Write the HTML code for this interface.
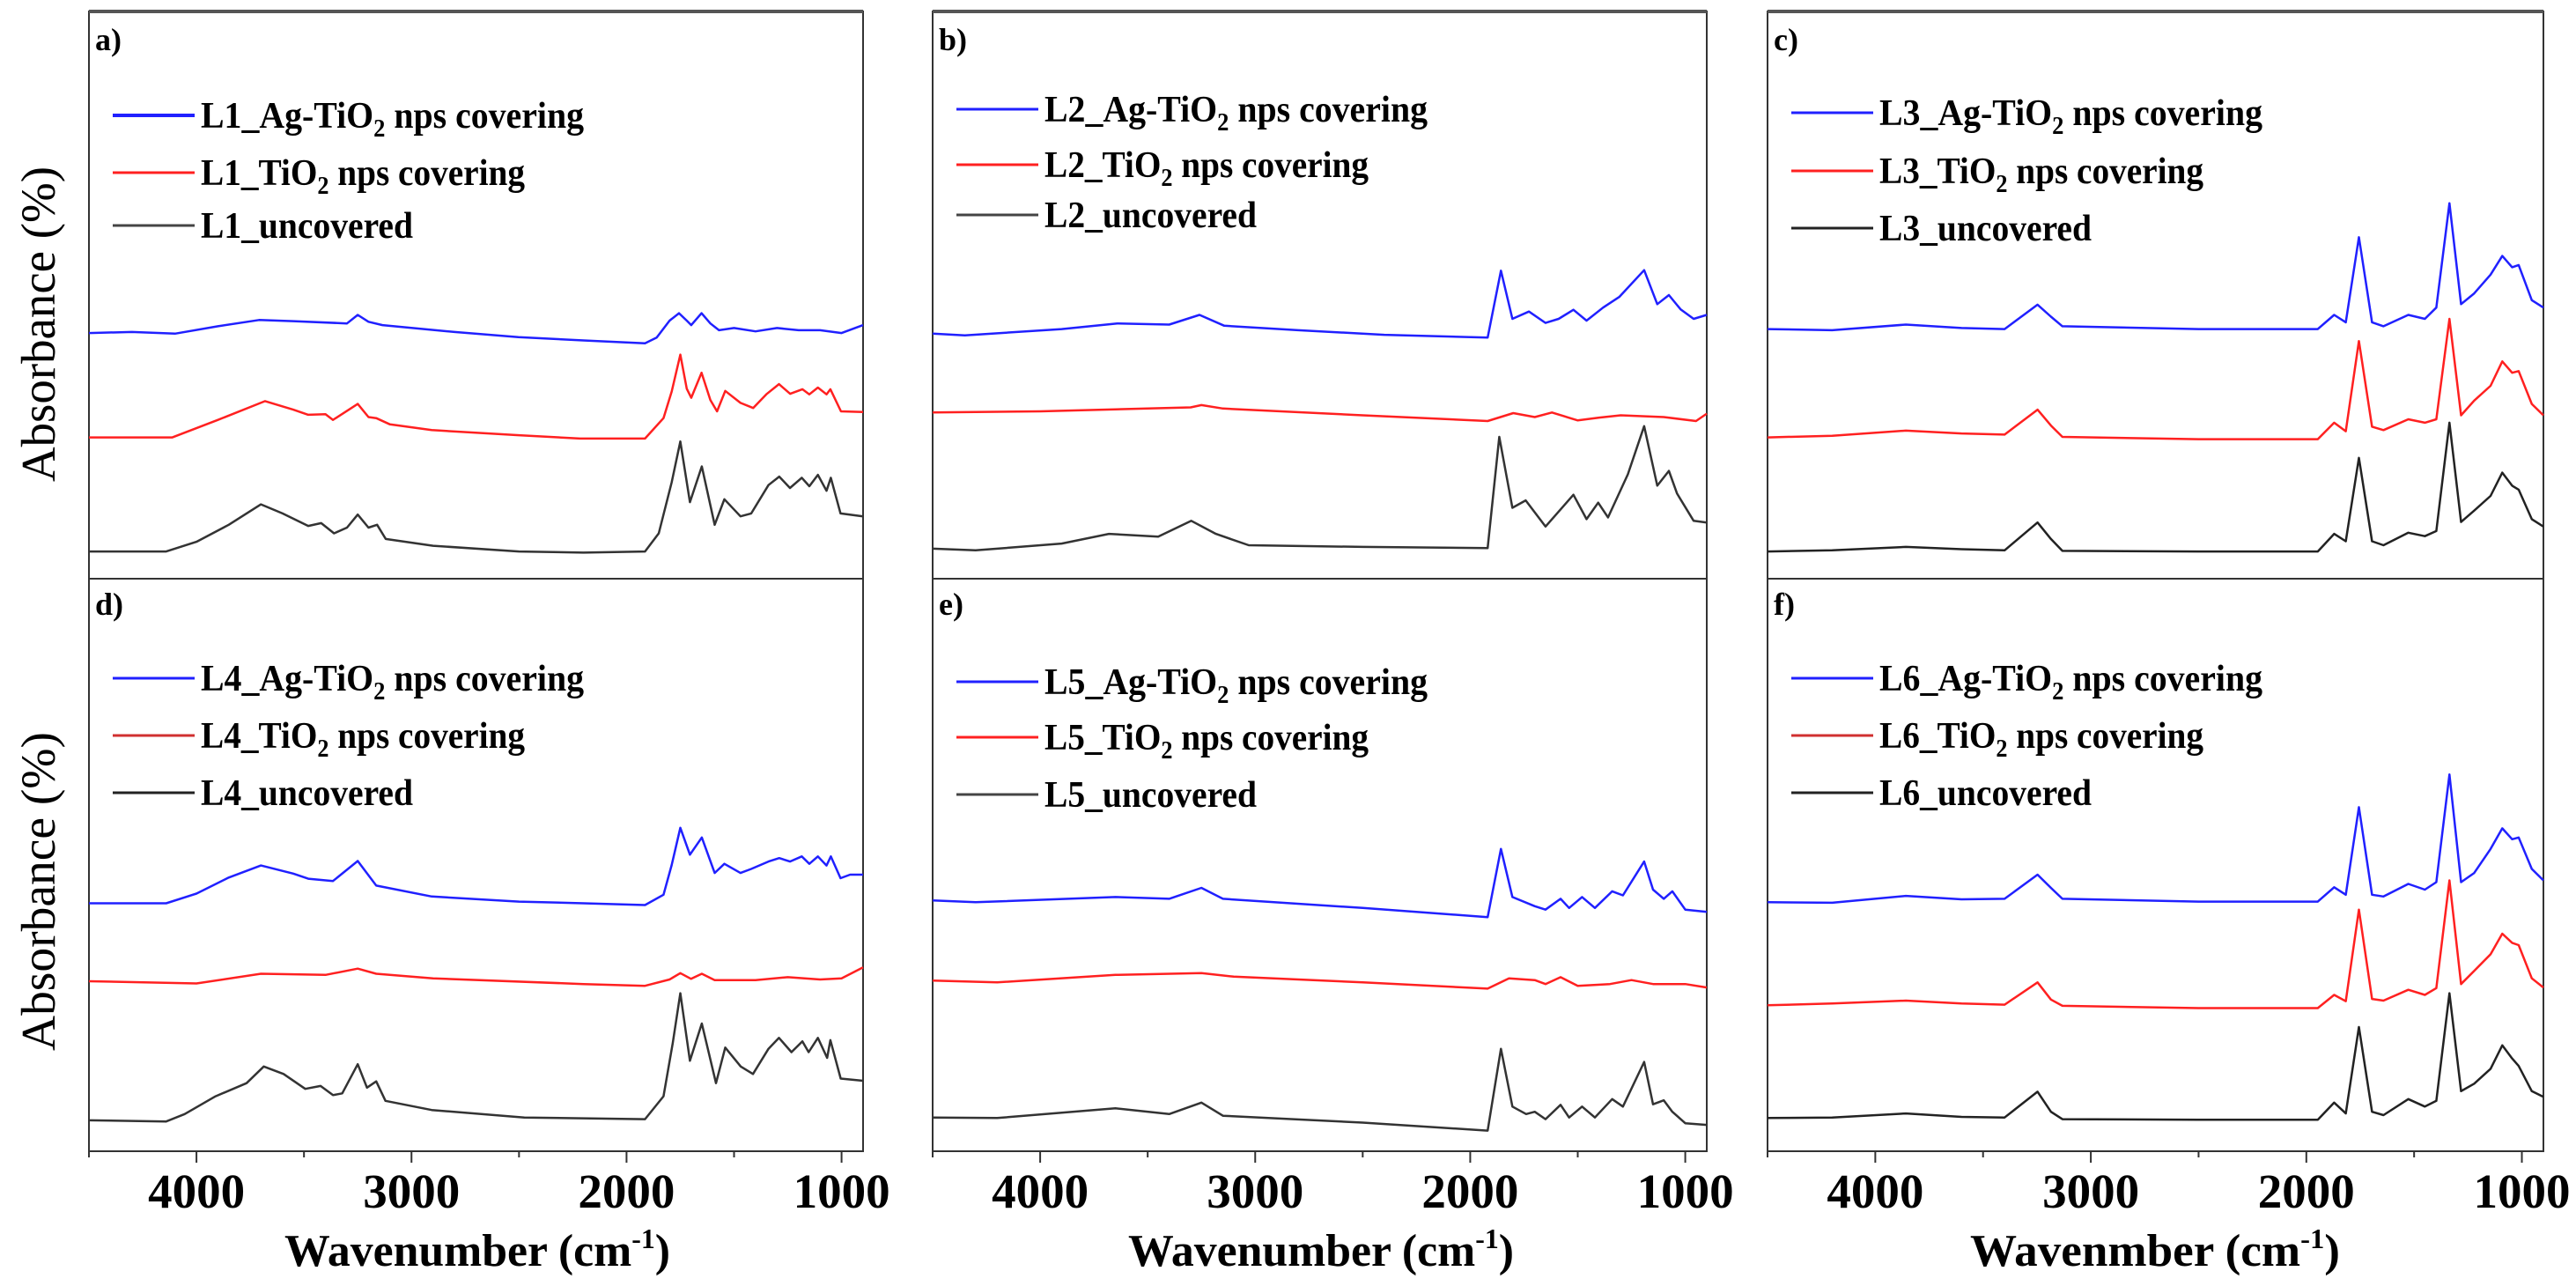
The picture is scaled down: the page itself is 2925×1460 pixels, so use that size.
<!DOCTYPE html>
<html><head><meta charset="utf-8"><title>FTIR spectra L1-L6</title>
<style>
html,body{margin:0;padding:0;background:#fff;}
svg{display:block;}
text{font-family:"Liberation Serif",serif;}
.lg{font-weight:bold;font-size:42px;fill:#000;}
.pl{font-weight:bold;font-size:36px;fill:#000;}
.yl{font-size:55px;fill:#000;}
.tk{font-weight:bold;font-size:55px;fill:#000;}
.xt{font-weight:bold;font-size:52px;fill:#000;}
</style></head>
<body>
<svg id="chart" width="2925" height="1460" viewBox="0 0 2925 1460" xmlns="http://www.w3.org/2000/svg">
<rect x="0" y="0" width="2925" height="1460" fill="#fff"/>
<g id="frames" fill="none" stroke="#333" stroke-width="2">
  <rect x="101" y="13" width="879" height="1294"/>
  <rect x="1059" y="13" width="879" height="1294"/>
  <rect x="2007" y="13" width="881" height="1294"/>
  <line x1="101" y1="13" x2="980" y2="13" stroke="#555" stroke-width="4"/>
  <line x1="1059" y1="13" x2="1938" y2="13" stroke="#555" stroke-width="4"/>
  <line x1="2007" y1="13" x2="2888" y2="13" stroke="#555" stroke-width="4"/>
  <line x1="101" y1="657" x2="980" y2="657"/>
  <line x1="1059" y1="657" x2="1938" y2="657"/>
  <line x1="2007" y1="657" x2="2888" y2="657"/>
</g>
<g id="ticks"></g>
<g id="curves"></g>

<!-- panel labels -->
<text class="pl" x="108" y="57">a)</text>
<text class="pl" x="1066" y="57">b)</text>
<text class="pl" x="2014" y="57">c)</text>
<text class="pl" x="108" y="698">d)</text>
<text class="pl" x="1066" y="698">e)</text>
<text class="pl" x="2014" y="698">f)</text>

<!-- y labels -->
<text class="yl" transform="translate(62,368) rotate(-90)" text-anchor="middle" textLength="358" lengthAdjust="spacingAndGlyphs">Absorbance (%)</text>
<text class="yl" transform="translate(62,1012) rotate(-90)" text-anchor="middle" textLength="362" lengthAdjust="spacingAndGlyphs">Absorbance (%)</text>

<!-- x titles -->
<text class="xt" x="323" y="1437" textLength="438" lengthAdjust="spacingAndGlyphs">Wavenumber (cm<tspan dy="-20" font-size="32">-1</tspan><tspan dy="20">)</tspan></text>
<text class="xt" x="1281" y="1437" textLength="438" lengthAdjust="spacingAndGlyphs">Wavenumber (cm<tspan dy="-20" font-size="32">-1</tspan><tspan dy="20">)</tspan></text>
<text class="xt" x="2237" y="1437" textLength="420" lengthAdjust="spacingAndGlyphs">Wavenmber (cm<tspan dy="-20" font-size="32">-1</tspan><tspan dy="20">)</tspan></text>

<!-- legends -->
<g>
  <line x1="128" y1="131" x2="221" y2="131" stroke="#2020ff" stroke-width="4"/>
  <text class="lg" x="228" y="145" textLength="435" lengthAdjust="spacingAndGlyphs">L1_Ag-TiO<tspan dy="10" font-size="28">2</tspan><tspan dy="-10"> nps covering</tspan></text>
  <line x1="128" y1="196" x2="221" y2="196" stroke="#ff2020" stroke-width="3"/>
  <text class="lg" x="228" y="210" textLength="368" lengthAdjust="spacingAndGlyphs">L1_TiO<tspan dy="10" font-size="28">2</tspan><tspan dy="-10"> nps covering</tspan></text>
  <line x1="128" y1="256" x2="221" y2="256" stroke="#444" stroke-width="3"/>
  <text class="lg" x="228" y="270" textLength="241" lengthAdjust="spacingAndGlyphs">L1_uncovered</text>
</g>
<g>
  <line x1="1086" y1="124" x2="1179" y2="124" stroke="#2020ff" stroke-width="3"/>
  <text class="lg" x="1186" y="138" textLength="435" lengthAdjust="spacingAndGlyphs">L2_Ag-TiO<tspan dy="10" font-size="28">2</tspan><tspan dy="-10"> nps covering</tspan></text>
  <line x1="1086" y1="187" x2="1179" y2="187" stroke="#ff2020" stroke-width="3"/>
  <text class="lg" x="1186" y="201" textLength="368" lengthAdjust="spacingAndGlyphs">L2_TiO<tspan dy="10" font-size="28">2</tspan><tspan dy="-10"> nps covering</tspan></text>
  <line x1="1086" y1="244" x2="1179" y2="244" stroke="#444" stroke-width="3"/>
  <text class="lg" x="1186" y="258" textLength="241" lengthAdjust="spacingAndGlyphs">L2_uncovered</text>
</g>
<g>
  <line x1="2034" y1="128" x2="2127" y2="128" stroke="#2020ff" stroke-width="3"/>
  <text class="lg" x="2134" y="142" textLength="435" lengthAdjust="spacingAndGlyphs">L3_Ag-TiO<tspan dy="10" font-size="28">2</tspan><tspan dy="-10"> nps covering</tspan></text>
  <line x1="2034" y1="194" x2="2127" y2="194" stroke="#ff2020" stroke-width="3"/>
  <text class="lg" x="2134" y="208" textLength="368" lengthAdjust="spacingAndGlyphs">L3_TiO<tspan dy="10" font-size="28">2</tspan><tspan dy="-10"> nps covering</tspan></text>
  <line x1="2034" y1="259" x2="2127" y2="259" stroke="#222" stroke-width="3"/>
  <text class="lg" x="2134" y="273" textLength="241" lengthAdjust="spacingAndGlyphs">L3_uncovered</text>
</g>
<g>
  <line x1="128" y1="770" x2="221" y2="770" stroke="#2020ff" stroke-width="3"/>
  <text class="lg" x="228" y="784" textLength="435" lengthAdjust="spacingAndGlyphs">L4_Ag-TiO<tspan dy="10" font-size="28">2</tspan><tspan dy="-10"> nps covering</tspan></text>
  <line x1="128" y1="835" x2="221" y2="835" stroke="#d03030" stroke-width="3"/>
  <text class="lg" x="228" y="849" textLength="368" lengthAdjust="spacingAndGlyphs">L4_TiO<tspan dy="10" font-size="28">2</tspan><tspan dy="-10"> nps covering</tspan></text>
  <line x1="128" y1="900" x2="221" y2="900" stroke="#222" stroke-width="3"/>
  <text class="lg" x="228" y="914" textLength="241" lengthAdjust="spacingAndGlyphs">L4_uncovered</text>
</g>
<g>
  <line x1="1086" y1="774" x2="1179" y2="774" stroke="#2020ff" stroke-width="3"/>
  <text class="lg" x="1186" y="788" textLength="435" lengthAdjust="spacingAndGlyphs">L5_Ag-TiO<tspan dy="10" font-size="28">2</tspan><tspan dy="-10"> nps covering</tspan></text>
  <line x1="1086" y1="837" x2="1179" y2="837" stroke="#ff2020" stroke-width="3"/>
  <text class="lg" x="1186" y="851" textLength="368" lengthAdjust="spacingAndGlyphs">L5_TiO<tspan dy="10" font-size="28">2</tspan><tspan dy="-10"> nps covering</tspan></text>
  <line x1="1086" y1="902" x2="1179" y2="902" stroke="#444" stroke-width="3"/>
  <text class="lg" x="1186" y="916" textLength="241" lengthAdjust="spacingAndGlyphs">L5_uncovered</text>
</g>
<g>
  <line x1="2034" y1="770" x2="2127" y2="770" stroke="#2020ff" stroke-width="3"/>
  <text class="lg" x="2134" y="784" textLength="435" lengthAdjust="spacingAndGlyphs">L6_Ag-TiO<tspan dy="10" font-size="28">2</tspan><tspan dy="-10"> nps covering</tspan></text>
  <line x1="2034" y1="835" x2="2127" y2="835" stroke="#d03030" stroke-width="3"/>
  <text class="lg" x="2134" y="849" textLength="368" lengthAdjust="spacingAndGlyphs">L6_TiO<tspan dy="10" font-size="28">2</tspan><tspan dy="-10"> nps covering</tspan></text>
  <line x1="2034" y1="900" x2="2127" y2="900" stroke="#222" stroke-width="3"/>
  <text class="lg" x="2134" y="914" textLength="241" lengthAdjust="spacingAndGlyphs">L6_uncovered</text>
</g>
</svg>
<script>
// Tick values
const majorTicks = [4000, 3000, 2000, 1000];
const minorTicks = [4500, 3500, 2500, 1500];
const tickLabels = ["4000", "3000", "2000", "1000"];

// Panel a (L1)
const a_blue_wn = [4500,4300,4100,3900,3709,3550,3300,3250,3200,3135,2800,2503,2200,1914,1860,1800,1756,1720,1699,1651,1610,1570,1500,1400,1300,1200,1100,1000,900];
const a_blue_ab = [43.3,43.5,43.2,44.5,45.6,45.4,45.0,46.5,45.3,44.7,43.5,42.6,42.0,41.5,42.5,45.5,46.8,45.5,44.7,46.8,45.0,43.8,44.2,43.6,44.2,43.8,43.8,43.3,44.7];
const a_red_wn = [4500,4112,3900,3681,3550,3480,3400,3365,3250,3200,3164,3100,2906,2500,2216,1914,1828,1790,1750,1720,1699,1651,1610,1579,1541,1470,1411,1350,1291,1239,1182,1150,1110,1070,1052,1003,900];
const a_red_ab = [24.9,24.9,28.0,31.3,29.8,28.9,29.0,28.0,30.8,28.5,28.3,27.2,26.2,25.3,24.7,24.7,28.3,33.0,39.5,33.5,31.9,36.3,31.5,29.5,33.1,31.0,30.1,32.5,34.3,32.6,33.4,32.5,33.7,32.5,33.4,29.5,29.4];
const a_black_wn = [4500,4141,4000,3850,3700,3600,3480,3420,3360,3300,3250,3200,3160,3120,2900,2500,2200,1914,1850,1790,1750,1705,1650,1590,1545,1470,1420,1340,1290,1240,1185,1150,1110,1070,1050,1005,900];
const a_black_ab = [4.8,4.8,6.5,9.5,13.1,11.5,9.3,9.8,8.0,9.0,11.3,9.0,9.5,7.0,5.8,4.8,4.6,4.8,8.0,17.0,24.2,13.5,19.8,9.5,14.0,11.0,11.5,16.5,18.0,16.0,17.8,16.3,18.3,15.5,17.8,11.5,11.0];

// Panel b (L2)
const b_blue_wn = [4500,4350,3900,3642,3400,3259,3144,2800,2400,1919,1857,1804,1727,1650,1589,1520,1459,1382,1306,1191,1130,1076,1022,961,900];
const b_blue_ab = [43.2,42.9,44.0,45.0,44.8,46.5,44.6,43.8,43.0,42.5,54.3,45.8,47.1,45.1,45.8,47.4,45.5,47.8,49.7,54.4,48.4,50.0,47.5,45.8,46.5];
const b_red_wn = [4500,4000,3500,3300,3250,3150,2500,1919,1800,1700,1620,1500,1400,1300,1100,950,900];
const b_red_ab = [29.3,29.5,30.0,30.2,30.6,30.0,28.8,27.8,29.2,28.5,29.3,27.9,28.4,28.8,28.5,27.8,29.1];
const b_black_wn = [4500,4300,3900,3680,3451,3297,3183,3030,2500,1919,1865,1804,1742,1650,1520,1459,1405,1359,1267,1191,1130,1076,1038,961,900];
const b_black_ab = [5.3,5.0,6.2,7.9,7.4,10.2,7.9,5.9,5.6,5.4,25.0,12.5,13.8,9.2,14.8,10.5,13.4,10.8,18.4,26.9,16.4,19.0,15.0,10.2,9.9];

// Panel c (L3)
const c_wn = [4500,4200,3858,3600,3400,3247,3185,3132,2500,1947,1871,1817,1756,1695,1642,1527,1450,1397,1336,1282,1221,1145,1091,1045,1015,954,900];
const c_blue_ab = [44.0,43.8,44.8,44.2,44.0,48.3,46.2,44.5,44.0,44.0,46.5,45.2,60.2,45.2,44.5,46.5,45.8,47.8,66.2,48.4,50.3,53.6,56.9,54.9,55.3,49.1,47.8];
const c_red_ab = [24.9,25.2,26.1,25.6,25.4,29.8,27.0,25.0,24.6,24.6,27.5,26.0,41.9,26.8,26.2,28.1,27.5,28.1,45.8,28.8,31.4,34.0,38.3,36.3,36.6,30.8,28.8];
const c_black_ab = [4.8,5.0,5.6,5.2,5.0,9.9,7.0,4.9,4.8,4.8,7.9,6.6,21.3,6.6,5.9,8.1,7.5,8.4,27.5,10.0,12.0,14.6,18.7,16.4,15.7,10.5,9.2];

// Panel d (L4)
const d_blue_wn = [4500,4141,4000,3850,3700,3550,3480,3365,3250,3164,2906,2500,2200,1914,1828,1790,1750,1705,1650,1590,1545,1470,1420,1340,1290,1240,1185,1150,1110,1070,1050,1005,960,900];
const d_blue_ab = [43.3,43.3,45.0,47.8,49.9,48.5,47.6,47.2,50.7,46.4,44.5,43.6,43.3,43.0,44.8,50.0,56.5,51.8,54.8,48.6,50.2,48.6,49.3,50.6,51.2,50.6,51.5,50.2,51.5,49.9,51.5,47.7,48.3,48.3];
const d_red_wn = [4500,4000,3700,3400,3250,3164,2900,2200,1914,1800,1750,1700,1650,1590,1400,1250,1100,1000,900];
const d_red_ab = [29.7,29.3,31.0,30.8,31.9,31.0,30.2,29.2,28.9,30.0,31.1,30.1,31.0,29.9,29.9,30.4,30.0,30.2,32.1];
const d_black_wn = [4500,4141,4055,3911,3767,3687,3595,3494,3423,3365,3322,3250,3207,3164,3121,2906,2475,1914,1828,1785,1750,1705,1650,1584,1541,1469,1412,1340,1291,1233,1182,1153,1110,1067,1052,1004,900];
const d_black_ab = [5.4,5.2,6.5,9.6,11.9,14.8,13.5,10.9,11.4,9.8,10.1,15.2,11.1,12.2,8.8,7.2,5.9,5.6,9.6,18.9,27.6,15.8,22.3,11.9,18.1,14.8,13.5,17.9,19.8,17.3,19.2,17.3,19.8,16.3,19.4,12.7,12.3];

// Panel e (L5)
const e_blue_wn = [4500,4300,3650,3400,3250,3150,2500,1919,1857,1804,1700,1650,1580,1540,1480,1420,1340,1290,1191,1150,1100,1060,1000,900];
const e_blue_ab = [43.8,43.5,44.4,44.1,46.0,44.1,42.5,40.9,52.8,44.4,42.8,42.2,44.1,42.5,44.4,42.5,45.4,44.7,50.6,45.7,44.1,45.4,42.2,41.8];
const e_red_wn = [4500,4200,3650,3250,3100,2500,1919,1820,1700,1650,1580,1500,1350,1250,1150,1000,900];
const e_red_ab = [29.8,29.5,30.8,31.1,30.5,29.5,28.4,30.2,29.9,29.2,30.4,28.9,29.2,29.9,29.2,29.2,28.6];
const e_black_wn = [4500,4200,3650,3400,3250,3150,2500,1919,1857,1804,1740,1700,1650,1580,1540,1480,1420,1340,1290,1191,1150,1100,1060,1000,900];
const e_black_ab = [5.9,5.8,7.5,6.5,8.5,6.2,5.0,3.6,17.9,7.8,6.5,6.9,5.6,8.1,5.9,7.8,5.9,9.1,7.8,15.6,8.2,8.9,6.9,4.9,4.6];

// Panel f (L6)
const f_wn = [4500,4200,3858,3600,3400,3247,3185,3132,2500,1947,1871,1817,1756,1695,1642,1527,1450,1397,1336,1282,1221,1145,1091,1045,1015,954,900];
const f_blue_ab = [43.5,43.4,44.6,44.0,44.1,48.3,46.0,44.1,43.6,43.6,46.1,44.8,60.1,44.8,44.5,46.7,45.7,47.0,65.8,47.0,48.6,52.8,56.4,54.5,54.8,49.3,47.3];
const f_red_ab = [25.5,25.8,26.3,25.8,25.6,29.5,26.5,25.4,25.0,25.0,27.3,26.2,42.2,26.6,26.3,28.2,27.3,28.5,47.3,29.2,31.5,34.4,38.0,36.4,36.0,30.2,28.6];
const f_black_ab = [5.8,5.9,6.6,6.0,5.9,10.4,6.9,5.6,5.5,5.5,8.5,6.6,21.7,6.9,6.3,9.1,7.8,8.8,27.6,10.5,11.8,14.4,18.5,16.2,14.9,10.5,9.5];

const NS = "http://www.w3.org/2000/svg";
const WN_MAX = 4500, WN_MIN = 900;
const panels = [
  {id:"a", left:101, width:879, top:13, bottom:657},
  {id:"b", left:1059, width:879, top:13, bottom:657},
  {id:"c", left:2007, width:881, top:13, bottom:657},
  {id:"d", left:101, width:879, top:657, bottom:1307},
  {id:"e", left:1059, width:879, top:657, bottom:1307},
  {id:"f", left:2007, width:881, top:657, bottom:1307}
];
function xScale(p, wn){ return p.left + (WN_MAX - wn) / (WN_MAX - WN_MIN) * p.width; }
function yScale(p, v){ return p.bottom - v / 100 * (p.bottom - p.top); }

const series = {
  a: [[a_blue_wn,a_blue_ab,"#2020ff","blue"],[a_red_wn,a_red_ab,"#ff2020","red"],[a_black_wn,a_black_ab,"#333","black"]],
  b: [[b_blue_wn,b_blue_ab,"#2020ff","blue"],[b_red_wn,b_red_ab,"#ff2020","red"],[b_black_wn,b_black_ab,"#333","black"]],
  c: [[c_wn,c_blue_ab,"#2020ff","blue"],[c_wn,c_red_ab,"#ff2020","red"],[c_wn,c_black_ab,"#222","black"]],
  d: [[d_blue_wn,d_blue_ab,"#2020ff","blue"],[d_red_wn,d_red_ab,"#ff2020","red"],[d_black_wn,d_black_ab,"#333","black"]],
  e: [[e_blue_wn,e_blue_ab,"#2020ff","blue"],[e_red_wn,e_red_ab,"#ff2020","red"],[e_black_wn,e_black_ab,"#333","black"]],
  f: [[f_wn,f_blue_ab,"#2020ff","blue"],[f_wn,f_red_ab,"#ff2020","red"],[f_wn,f_black_ab,"#222","black"]]
};

const curvesG = document.getElementById("curves");
panels.forEach(p => {
  series[p.id].forEach(s => {
    const wn = s[0], ab = s[1];
    const pts = wn.map((w, i) => xScale(p, w).toFixed(1) + "," + yScale(p, ab[i]).toFixed(1)).join(" ");
    const pl = document.createElementNS(NS, "polyline");
    pl.setAttribute("points", pts);
    pl.setAttribute("fill", "none");
    pl.setAttribute("stroke", s[2]);
    pl.setAttribute("stroke-width", "2.5");
    pl.setAttribute("stroke-linejoin", "round");
    
    
    curvesG.appendChild(pl);
  });
});

const ticksG = document.getElementById("ticks");
panels.filter(p => p.bottom === 1307).forEach(p => {
  majorTicks.forEach((t, i) => {
    const x = xScale(p, t);
    const ln = document.createElementNS(NS, "line");
    ln.setAttribute("x1", x); ln.setAttribute("x2", x);
    ln.setAttribute("y1", p.bottom); ln.setAttribute("y2", p.bottom + 13);
    ln.setAttribute("stroke", "#333"); ln.setAttribute("stroke-width", "2");
    
    
    ticksG.appendChild(ln);
    const tx = document.createElementNS(NS, "text");
    tx.setAttribute("x", x); tx.setAttribute("y", 1371);
    tx.setAttribute("text-anchor", "middle");
    tx.setAttribute("class", "tk");
    tx.textContent = tickLabels[i];
    
    
    ticksG.appendChild(tx);
  });
  minorTicks.forEach(t => {
    const x = xScale(p, t);
    const ln = document.createElementNS(NS, "line");
    ln.setAttribute("x1", x); ln.setAttribute("x2", x);
    ln.setAttribute("y1", p.bottom); ln.setAttribute("y2", p.bottom + 7);
    ln.setAttribute("stroke", "#333"); ln.setAttribute("stroke-width", "2");
    
    
    ticksG.appendChild(ln);
  });
});
</script>
</body></html>
